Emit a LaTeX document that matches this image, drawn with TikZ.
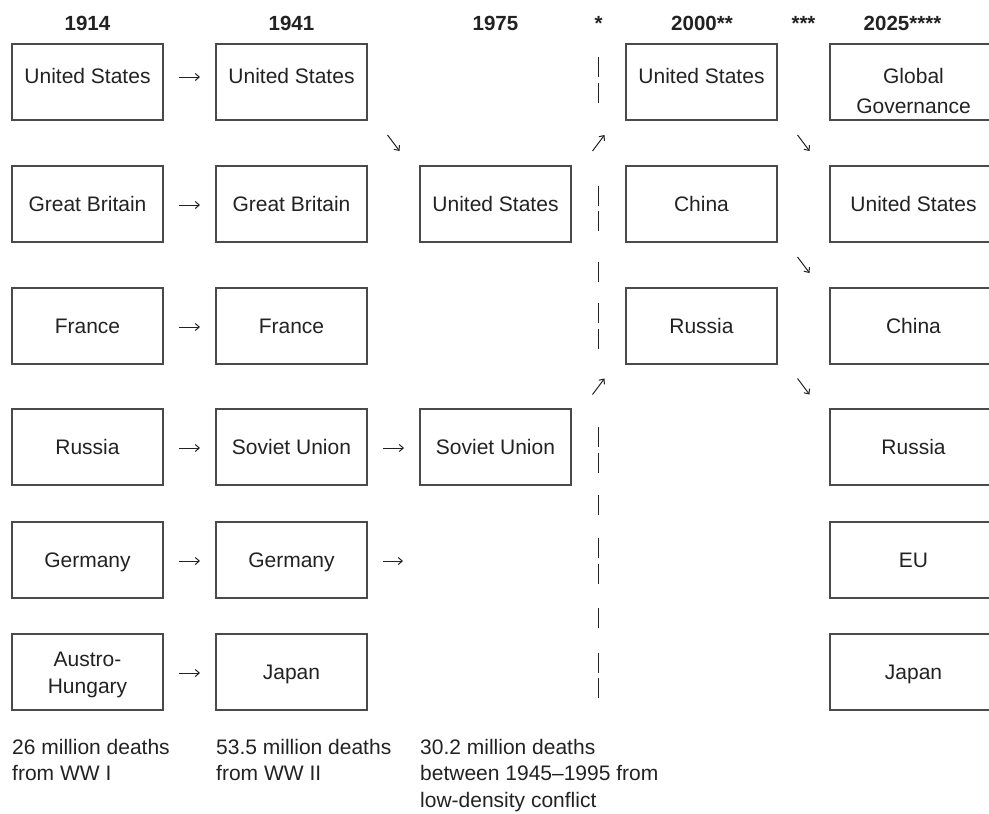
\documentclass[tikz,border=0pt]{standalone}
\usepackage{fontspec}
\setmainfont{Liberation Sans}
\usetikzlibrary{arrows.meta,calc}
\definecolor{ink}{HTML}{222222}
\definecolor{frame}{HTML}{4A4A4A}
\begin{document}
\begin{tikzpicture}[x=1pt,y=-1pt,
  box/.style={draw=frame,line width=1.3pt,minimum width=151pt,minimum height=76pt,inner sep=0pt,outer sep=0pt,text=ink,font=\fontsize{21}{25}\selectfont,text height=15pt,text depth=0pt},
  wide/.style={minimum width=167pt},
  toprow/.style={text depth=13pt},
  two/.style={font=\fontsize{21}{#1}\selectfont,text=ink,align=center,anchor=north,inner sep=0pt},
  hdr/.style={font=\fontsize{20.5}{24}\selectfont\bfseries,text=ink,anchor=base,inner sep=0pt},
  note/.style={font=\fontsize{21}{26.5}\selectfont,text=ink,anchor=north west,align=left,inner sep=0pt},
  arr/.style={draw=ink,line width=1pt,-{Straight Barb[length=4pt,width=7pt]}},
  bar/.style={draw=ink,line width=1.6pt},
]
\useasboundingbox (0,0) rectangle (989,814);

% headers
\node[hdr] (h1) at (87.5,30) {1914};
\node[hdr] (h2) at (291.5,30) {1941};
\node[hdr] (h3) at (495.5,30) {1975};
\node[hdr] (h4) at (598.5,30) {*};
\node[hdr] (h5) at (702,30) {2000**};
\node[hdr] (h6) at (803.5,30) {***};
\node[hdr] (h7) at (902.5,30) {2025****};

% row 1
\node[box,toprow] (r1c1) at (87.5,82) {United States};
\node[box,toprow] (r1c2) at (291.5,82) {United States};
\node[box,toprow] (r1c4) at (701.5,82) {United States};
\node[box,wide] (r1c5) at (913.5,82) {};
\node[two=30] (gg) at (913.5,68) {Global\\Governance};

% row 2
\node[box] (r2c1) at (87.5,204) {Great Britain};
\node[box] (r2c2) at (291.5,204) {Great Britain};
\node[box] (r2c3) at (495.5,204) {United States};
\node[box] (r2c4) at (701.5,204) {China};
\node[box,wide] (r2c5) at (913.5,204) {United States};

% row 3
\node[box] (r3c1) at (87.5,326) {France};
\node[box] (r3c2) at (291.5,326) {France};
\node[box] (r3c4) at (701.5,326) {Russia};
\node[box,wide] (r3c5) at (913.5,326) {China};

% row 4
\node[box] (r4c1) at (87.5,447) {Russia};
\node[box] (r4c2) at (291.5,447) {Soviet Union};
\node[box] (r4c3) at (495.5,447) {Soviet Union};
\node[box,wide] (r4c5) at (913.5,447) {Russia};

% row 5
\node[box] (r5c1) at (87.5,560) {Germany};
\node[box] (r5c2) at (291.5,560) {Germany};
\node[box,wide] (r5c5) at (913.5,560) {EU};

% row 6
\node[box] (r6c1) at (87.5,672) {};
\node[two=27] (ah) at (87.5,652) {Austro-\\Hungary};
\node[box] (r6c2) at (291.5,672) {Japan};
\node[box,wide] (r6c5) at (913.5,672) {Japan};

% horizontal arrows
\draw[arr] ([xshift=16pt,yshift=5pt]r1c1.east) -- ([xshift=-16pt,yshift=5pt]r1c2.west);
\foreach \r in {2,...,6}
  \draw[arr] ([xshift=16pt,yshift=-1pt]r\r c1.east) -- ([xshift=-16pt,yshift=-1pt]r\r c2.west);
\draw[arr] ([xshift=16pt,yshift=-1pt]r4c2.east) -- ([xshift=-16pt,yshift=-1pt]r4c3.west);
\draw[arr] ([xshift=16pt,yshift=-1pt]r5c2.east) -- ++(20,0);

% diagonal arrows
\draw[arr] ($(r1c2.south east)!0.5!(r2c3.north west)$) ++(-6,-8) -- ++(12,16);
\draw[arr] ($(r2c3.north east)!0.5!(r1c4.south west)$) ++(-6,8) -- ++(12,-16);
\draw[arr] ($(r4c3.north east)!0.5!(r3c4.south west)$) ++(-6,8) -- ++(12,-16);
\draw[arr] ($(r1c4.south east)!0.5!(r2c5.north west)$) ++(-6,-8) -- ++(12,16);
\draw[arr] ($(r2c4.south east)!0.5!(r3c5.north west)$) ++(-6,-8) -- ++(12,16);
\draw[arr] ($(r3c4.south east)!0.5!(r4c5.north west)$) ++(-6,-8) -- ++(12,16);

% dashed divider
\foreach \c in {67,92.5,196,221,272,313,339,437,462.5,505,548,574,618,662.5,687.5}
  \draw[bar] (598.5,\c-10) -- (598.5,\c+10);

% notes
\node[note] (n1) at (12,739) {26 million deaths\\from WW I};
\node[note] (n2) at (216,739) {53.5 million deaths\\from WW II};
\node[note] (n3) at (420,739) {30.2 million deaths\\between 1945–1995 from\\low-density conflict};
\end{tikzpicture}
\end{document}
